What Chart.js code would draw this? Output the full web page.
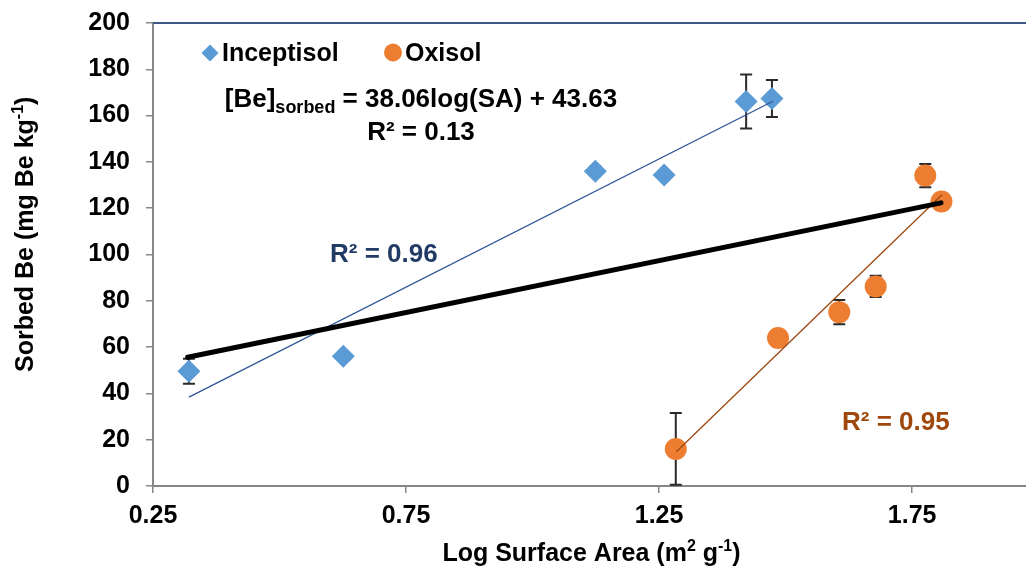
<!DOCTYPE html>
<html>
<head>
<meta charset="utf-8">
<title>Sorbed Be vs Log Surface Area</title>
<script src="https://cdn.jsdelivr.net/npm/chart.js@4.4.1/dist/chart.umd.min.js"></script>
<style>
  html, body { margin: 0; padding: 0; background: #ffffff; }
  #wrap { width: 1026px; height: 573px; position: relative; }
</style>
</head>
<body>
<div id="wrap"><canvas id="c" width="1026" height="573"></canvas></div>
<script>
// ---- data ----
const xTickValues = [0.25, 0.75, 1.25, 1.75];
const yTickValues = [0, 20, 40, 60, 80, 100, 120, 140, 160, 180, 200];

const seriesNames = ['Inceptisol', 'Oxisol'];

const inceptX  = [0.321, 0.626, 1.124, 1.260, 1.422, 1.473];
const inceptY  = [49.6, 56.1, 136.0, 134.3, 166.1, 167.4];
const inceptSD = [5.4, 1.2, 2.0, 1.0, 11.7, 8.0];

const oxisolX  = [1.283, 1.485, 1.606, 1.678, 1.776, 1.808];
const oxisolY  = [16.0, 63.9, 75.1, 86.2, 134.1, 122.9];
const oxisolSD = [15.5, 1.0, 5.2, 4.6, 5.0, 1.0];

// regression lines (end points)
const inceptFitX = [0.321, 1.475];
const inceptFitY = [38.4, 166.2];
const oxisolFitX = [1.284, 1.809];
const oxisolFitY = [14.8, 125.8];
const pooledFitX = [0.3185, 1.807];
const pooledFitY = [55.6, 122.3];

const pooledEquation = ['[Be]', 'sorbed', ' = 38.06log(SA) + 43.63'];
const pooledR2 = 'R² = 0.13';
const inceptR2 = 'R² = 0.96';
const oxisolR2 = 'R² = 0.95';

// ---- styling ----
const FONT = '"Liberation Sans", Arial, Helvetica, sans-serif';
const BLUE = '#5B9BD5';
const ORANGE = '#ED7D31';
const NAVY = '#2F5597';
const BROWN = '#9E480E';
const AXIS_GREY = '#878787';

const toPts = (xs, ys) => xs.map((x, i) => ({ x: x, y: ys[i] }));

// error bars drawn behind the markers
const errorBars = {
  id: 'errorBars',
  beforeDatasetsDraw(chart) {
    const ctx = chart.ctx, xs = chart.scales.x, ys = chart.scales.y;
    const sets = [[inceptX, inceptY, inceptSD], [oxisolX, oxisolY, oxisolSD]];
    ctx.save();
    ctx.strokeStyle = '#2a2a2a';
    ctx.lineWidth = 2;
    sets.forEach(([X, Y, SD]) => {
      X.forEach((xv, i) => {
        const px = xs.getPixelForValue(xv);
        const top = ys.getPixelForValue(Y[i] + SD[i]);
        const bot = ys.getPixelForValue(Y[i] - SD[i]);
        ctx.beginPath();
        ctx.moveTo(px, top); ctx.lineTo(px, bot);
        ctx.moveTo(px - 6, top); ctx.lineTo(px + 6, top);
        ctx.moveTo(px - 6, bot); ctx.lineTo(px + 6, bot);
        ctx.stroke();
      });
    });
    ctx.restore();
  }
};

// frame top, legend, annotations and axis titles
const decorations = {
  id: 'decorations',
  afterDraw(chart) {
    const ctx = chart.ctx, a = chart.chartArea;
    ctx.save();

    // top border of the plot frame
    ctx.strokeStyle = '#3B5683';
    ctx.lineWidth = 2;
    ctx.beginPath();
    ctx.moveTo(a.left, a.top); ctx.lineTo(a.right, a.top);
    ctx.stroke();

    // legend
    ctx.fillStyle = BLUE;
    ctx.beginPath();
    ctx.moveTo(210, 44.5); ctx.lineTo(218.5, 53); ctx.lineTo(210, 61.5); ctx.lineTo(201.5, 53);
    ctx.closePath(); ctx.fill();
    ctx.fillStyle = ORANGE;
    ctx.beginPath(); ctx.arc(393, 52.5, 9, 0, Math.PI * 2); ctx.fill();
    ctx.fillStyle = '#000';
    ctx.font = 'bold 25px ' + FONT;
    ctx.textBaseline = 'alphabetic';
    ctx.textAlign = 'left';
    ctx.fillText(seriesNames[0], 222, 61);
    ctx.fillText(seriesNames[1], 405, 61);

    // pooled regression equation
    const big = 'bold 26px ' + FONT, small = 'bold 18px ' + FONT;
    ctx.font = big;
    const w0 = ctx.measureText(pooledEquation[0]).width;
    const w2 = ctx.measureText(pooledEquation[2]).width;
    ctx.font = small;
    const w1 = ctx.measureText(pooledEquation[1]).width;
    const cx = 421;
    let x0 = cx - (w0 + w1 + w2) / 2;
    ctx.font = big; ctx.fillText(pooledEquation[0], x0, 107);
    ctx.font = small; ctx.fillText(pooledEquation[1], x0 + w0, 113);
    ctx.font = big; ctx.fillText(pooledEquation[2], x0 + w0 + w1, 107);
    ctx.textAlign = 'center';
    ctx.fillText(pooledR2, cx, 140);

    // per-soil R² labels
    ctx.textAlign = 'left';
    ctx.fillStyle = '#223B66';
    ctx.fillText(inceptR2, 330, 262);
    ctx.fillStyle = BROWN;
    ctx.fillText(oxisolR2, 842, 430);

    // axis titles with superscripts
    const tFont = 'bold 25px ' + FONT, sFont = 'bold 16px ' + FONT;
    function richText(parts, x, y, align) {
      let total = 0;
      parts.forEach(p => { ctx.font = p[1] ? sFont : tFont; total += ctx.measureText(p[0]).width; });
      let px = align === 'center' ? x - total / 2 : x;
      ctx.textAlign = 'left';
      parts.forEach(p => {
        ctx.font = p[1] ? sFont : tFont;
        ctx.fillText(p[0], px, p[1] ? y - 10 : y);
        px += ctx.measureText(p[0]).width;
      });
    }
    ctx.fillStyle = '#000';
    richText([['Log Surface Area (m', 0], ['2', 1], [' g', 0], ['-1', 1], [')', 0]],
      (a.left + a.right) / 2 + 2, 561, 'center');

    ctx.translate(33, 372);
    ctx.rotate(-Math.PI / 2);
    richText([['Sorbed Be (mg Be kg', 0], ['-1', 1], [')', 0]], 0, 0, 'left');
    ctx.restore();
  }
};

new Chart(document.getElementById('c'), {
  type: 'scatter',
  data: {
    datasets: [
      { label: 'pooled fit', data: toPts(pooledFitX, pooledFitY), showLine: true,
        borderColor: '#000', borderWidth: 5, borderCapStyle: 'round', pointRadius: 0, fill: false },
      { label: 'Inceptisol fit', data: toPts(inceptFitX, inceptFitY), showLine: true,
        borderColor: NAVY, borderWidth: 1.3, pointRadius: 0, fill: false },
      { label: 'Oxisol fit', data: toPts(oxisolFitX, oxisolFitY), showLine: true,
        borderColor: BROWN, borderWidth: 1.3, pointRadius: 0, fill: false },
      { label: seriesNames[0], data: toPts(inceptX, inceptY), pointStyle: 'rectRot',
        pointRadius: 11.5, backgroundColor: BLUE, borderColor: BLUE, borderWidth: 0 },
      { label: seriesNames[1], data: toPts(oxisolX, oxisolY), pointStyle: 'circle',
        pointRadius: 11, backgroundColor: ORANGE, borderColor: ORANGE, borderWidth: 0 }
    ]
  },
  options: {
    responsive: false,
    devicePixelRatio: 1,
    animation: false,
    layout: { autoPadding: false, padding: { top: 23, right: 0, bottom: 0, left: 0 } },
    plugins: { legend: { display: false }, tooltip: { enabled: false } },
    scales: {
      x: {
        type: 'linear', min: 0.25, max: 1.975,
        afterBuildTicks: s => { s.ticks = xTickValues.map(v => ({ value: v })); },
        afterFit: s => { s.height = 87; s.paddingLeft = 0; s.paddingRight = 0; },
        border: { display: true, color: AXIS_GREY, width: 2 },
        grid: { drawOnChartArea: false, drawTicks: true, tickLength: 7, color: AXIS_GREY, lineWidth: 1.5 },
        ticks: { color: '#000', font: { family: FONT, size: 25, weight: 'bold' }, padding: 8,
                 maxRotation: 0, callback: v => Number(v).toFixed(2) }
      },
      y: {
        type: 'linear', min: 0, max: 200,
        afterBuildTicks: s => { s.ticks = yTickValues.map(v => ({ value: v })); },
        afterFit: s => { s.width = 153; s.paddingTop = 0; s.paddingBottom = 0; },
        border: { display: true, color: AXIS_GREY, width: 2 },
        grid: { drawOnChartArea: false, drawTicks: true, tickLength: 7, color: AXIS_GREY, lineWidth: 1.5 },
        ticks: { color: '#000', font: { family: FONT, size: 25, weight: 'bold' }, padding: 16 }
      }
    }
  },
  plugins: [errorBars, decorations]
});
</script>
</body>
</html>
